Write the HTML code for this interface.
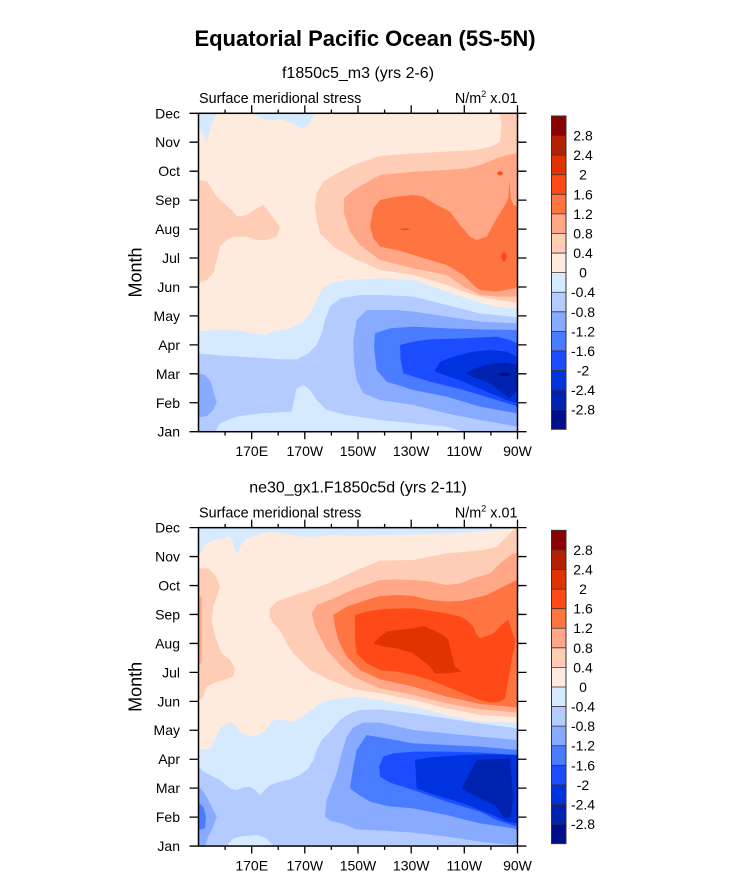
<!DOCTYPE html>
<html><head><meta charset="utf-8"><style>
html,body{margin:0;padding:0;background:#fff;}
svg{display:block;font-family:"Liberation Sans",Arial,sans-serif;}
</style></head><body>
<svg width="733" height="890" viewBox="0 0 733 890" xmlns="http://www.w3.org/2000/svg">
<defs>
<clipPath id="cp"><rect x="237" y="100" width="955" height="955"/></clipPath>
<clipPath id="cp2"><rect x="237" y="83" width="955" height="955"/></clipPath>
</defs>
<rect width="733" height="890" fill="#fff"/>
<text x="365" y="46" font-size="22" font-weight="bold" text-anchor="middle">Equatorial Pacific Ocean (5S-5N)</text>

<!-- ============ PLOT 1 contours ============ -->
<g transform="translate(120,80) scale(0.333333)" clip-path="url(#cp)">
<rect x="237" y="100" width="955" height="955" fill="#FFEBDD"/>
<g fill="#D6EAFF">
<path d="M237,100 L288,100 L272,140 L260,187 L248,160 L237,150 Z"/>
<path d="M395,100 L585,100 L565,135 L545,148 L520,130 L480,118 L440,122 L420,112 Z"/>
<path d="M237,755 L300,748 L360,752 L400,760 L430,765 L460,755 L510,745 L545,730 L570,700 L590,660 L605,628 L630,610 L680,600 L780,595 L880,600 L980,635 L1080,668 L1130,680 L1192,685 L1192,1055 L237,1055 Z"/>
</g>
<path fill="#B3CBFF" d="M237,820 L300,826 L400,832 L480,838 L530,838 L565,820 L590,795 L605,760 L615,720 L630,680 L660,655 L720,645 L780,645 L880,650 L980,675 L1080,700 L1192,712 L1192,1055 L1030,1055 L980,1040 L880,1030 L780,1020 L680,1005 L620,990 L590,960 L570,930 L550,915 L530,925 L515,995 L420,1000 L350,1010 L300,1030 L285,1055 L237,1055 Z"/>
<g fill="#88AAFF">
<path d="M740,690 L780,690 L830,690 L880,695 L980,710 L1080,725 L1192,730 L1192,1040 L1080,1020 L980,1000 L880,975 L780,960 L730,940 L710,900 L702,850 L700,780 L710,720 Z"/>
<path d="M237,880 L255,885 L272,905 L290,968 L280,990 L262,1008 L237,1012 Z"/>
</g>
<path fill="#4A7CFF" d="M765,760 L810,745 L880,740 L980,745 L1080,748 L1192,750 L1192,1000 L1080,980 L980,950 L880,930 L800,905 L770,870 L762,800 Z"/>
<path fill="#1C4CFF" d="M840,795 L880,785 L930,778 L1030,775 L1130,770 L1170,780 L1192,790 L1192,980 L1180,975 L1130,960 L1030,930 L930,905 L850,880 L842,840 Z"/>
<path fill="#0033E0" d="M945,870 L960,845 L1000,830 L1060,815 L1110,810 L1160,815 L1192,830 L1192,970 L1160,960 L1100,935 L1030,905 L945,875 Z"/>
<path fill="#0022B0" d="M1035,880 L1080,860 L1120,850 L1160,848 L1192,855 L1192,930 L1170,955 L1150,940 L1110,910 L1070,895 Z"/>
<ellipse cx="1155" cy="883" rx="18" ry="6" fill="#000E8C"/>
<g fill="#FFCDB5">
<path d="M237,300 L262,305 L290,350 L340,395 L352,410 L380,405 L410,385 L430,375 L450,400 L480,440 L470,470 L440,480 L410,480 L380,470 L340,470 L320,480 L300,500 L290,540 L280,580 L260,600 L245,605 L237,610 Z"/>
<path d="M1138,100 L1192,100 L1192,668 L1130,660 L1080,650 L1030,635 L980,615 L880,585 L780,570 L700,535 L640,500 L600,460 L590,420 L585,380 L590,340 L610,305 L650,280 L700,255 L780,228 L880,220 L980,215 L1070,210 L1120,197 L1140,185 L1145,135 Z"/>
</g>
<path fill="#FFA786" d="M672,355 L700,330 L780,285 L880,275 L980,270 L1040,265 L1080,255 L1130,235 L1160,225 L1192,220 L1192,650 L1130,650 L1080,645 L1030,620 L980,585 L880,565 L780,540 L720,495 L690,455 L672,400 Z"/>
<path fill="#FF7542" d="M750,440 L760,385 L780,360 L830,350 L880,345 L910,350 L950,375 L990,395 L1020,435 L1050,470 L1070,480 L1100,470 L1130,415 L1155,375 L1165,355 L1168,300 L1172,355 L1180,375 L1192,380 L1192,625 L1180,625 L1130,635 L1080,630 L1060,615 L1030,585 L980,555 L930,540 L880,525 L830,510 L780,500 L760,475 Z"/>
<g fill="#FF4A18">
<ellipse cx="855" cy="448" rx="14" ry="3"/>
<ellipse cx="1152" cy="530" rx="8" ry="14"/>
<ellipse cx="1140" cy="280" rx="8" ry="6"/>
</g>
</g>

<!-- ============ PLOT 2 contours ============ -->
<g transform="translate(120,500) scale(0.333333)" clip-path="url(#cp2)">
<rect x="237" y="83" width="955" height="955" fill="#FFEBDD"/>
<g fill="#D6EAFF">
<path d="M237,83 L1180,83 L1160,88 L1100,92 L1000,100 L900,103 L800,105 L700,108 L630,105 L590,110 L540,110 L490,100 L450,95 L410,105 L380,115 L360,140 L350,165 L340,130 L330,108 L310,115 L280,120 L255,135 L240,160 L237,165 Z"/>
<path d="M237,745 L255,748 L270,745 L285,720 L300,685 L320,670 L335,668 L350,680 L365,700 L385,708 L410,705 L435,695 L450,670 L465,660 L490,660 L520,665 L540,655 L560,640 L580,625 L610,605 L640,598 L700,590 L780,600 L880,620 L980,645 L1080,665 L1192,668 L1192,1038 L237,1038 Z"/>
</g>
<path fill="#B3CBFF" d="M237,800 L250,815 L270,825 L300,840 L330,865 L350,870 L370,862 L390,860 L405,870 L420,885 L435,870 L450,855 L480,845 L510,838 L540,825 L565,805 L580,780 L590,750 L605,720 L630,695 L660,660 L690,640 L720,630 L780,628 L880,640 L980,655 L1080,670 L1192,685 L1192,1038 L460,1038 L440,1015 L410,1005 L360,1010 L340,1015 L320,1038 L237,1038 Z"/>
<g fill="#88AAFF">
<path d="M700,682 L730,668 L780,668 L880,690 L980,700 L1080,710 L1192,720 L1192,1038 L1180,1035 L1080,1025 L980,1010 L880,998 L790,992 L710,988 L670,972 L630,962 L615,950 L620,900 L635,860 L650,820 L665,760 L680,710 Z"/>
<path d="M237,860 L250,875 L270,910 L290,950 L280,980 L265,1010 L255,1038 L237,1038 Z"/>
</g>
<g fill="#4A7CFF">
<path d="M740,705 L780,712 L880,730 L980,735 L1080,740 L1192,750 L1192,990 L1180,985 L1080,970 L980,945 L880,925 L800,918 L750,905 L710,880 L690,865 L700,800 L710,750 Z"/>
<path d="M237,910 L250,920 L258,950 L255,985 L237,990 Z"/>
</g>
<path fill="#1C4CFF" d="M790,770 L820,760 L880,755 L980,755 L1080,758 L1192,765 L1192,980 L1130,960 L1080,935 L980,905 L880,870 L810,848 L780,830 L778,800 Z"/>
<path fill="#0033E0" d="M885,780 L930,772 L1030,765 L1130,763 L1192,765 L1192,970 L1160,965 L1130,950 L1080,930 L1030,910 L930,880 L890,865 Z"/>
<path fill="#0022B0" d="M1025,865 L1070,780 L1170,775 L1175,835 L1180,900 L1172,950 L1160,955 L1145,945 L1125,915 L1080,895 L1040,875 Z"/>
<g fill="#FFCDB5">
<path d="M237,205 L265,205 L285,225 L300,260 L290,290 L280,320 L275,360 L285,410 L305,460 L330,480 L345,505 L340,530 L310,540 L280,550 L260,560 L250,590 L240,600 L237,600 Z"/>
<path d="M1192,83 L1192,652 L1080,645 L980,625 L880,600 L780,580 L700,567 L630,540 L610,530 L570,510 L540,480 L520,460 L500,430 L480,390 L460,370 L448,350 L450,325 L470,305 L510,290 L570,270 L630,248 L700,215 L780,182 L880,180 L930,170 L980,160 L1040,155 L1090,150 L1130,140 L1160,110 L1180,90 Z"/>
</g>
<path fill="#FFA786" d="M237,290 L245,290 L245,490 L237,490 Z"/>
<path fill="#FFA786" d="M575,340 L590,315 L630,300 L700,268 L780,240 L830,238 L880,240 L930,245 L980,255 L1020,250 L1060,235 L1110,220 L1140,190 L1165,170 L1180,160 L1192,160 L1192,638 L1080,628 L980,610 L880,585 L780,565 L700,530 L660,495 L630,460 L620,450 L605,420 L585,380 Z"/>
<path fill="#FF7542" d="M640,345 L680,320 L740,300 L780,288 L830,285 L880,288 L930,300 L980,305 L1030,302 L1060,295 L1100,285 L1130,270 L1160,255 L1180,245 L1192,240 L1192,622 L1150,618 L1080,612 L980,590 L880,560 L780,538 L720,510 L680,470 L655,420 L645,380 Z"/>
<path fill="#FF4A18" d="M705,345 L740,335 L780,328 L840,325 L880,325 L930,332 L980,340 L1020,350 L1040,360 L1060,380 L1070,405 L1080,415 L1120,400 L1150,370 L1165,360 L1175,390 L1185,420 L1182,450 L1175,480 L1165,540 L1155,595 L1140,605 L1110,608 L1080,600 L1030,580 L980,560 L930,540 L880,525 L830,515 L780,510 L740,490 L710,460 L705,420 Z"/>
<path fill="#E13300" d="M760,430 L780,410 L800,395 L830,390 L880,385 L910,378 L940,390 L970,405 L985,420 L995,460 L1005,500 L1025,515 L980,520 L945,520 L930,500 L880,460 L830,445 L790,440 Z"/>
</g>

<!-- ============ Axes (plot 1), reused for plot 2 ============ -->
<g id="ax">
<rect x="198.5" y="113.3" width="319" height="318.4" fill="none" stroke="#000" stroke-width="1.5"/>
<g stroke="#000" stroke-width="1.3">
<!-- left/right month ticks -->
<path d="M189.5,113.3H198.5M189.5,142.2H198.5M189.5,171.2H198.5M189.5,200.1H198.5M189.5,229.1H198.5M189.5,258H198.5M189.5,287H198.5M189.5,315.9H198.5M189.5,344.9H198.5M189.5,373.8H198.5M189.5,402.75H198.5M189.5,431.7H198.5"/>
<path d="M517.5,113.3H526.5M517.5,142.2H526.5M517.5,171.2H526.5M517.5,200.1H526.5M517.5,229.1H526.5M517.5,258H526.5M517.5,287H526.5M517.5,315.9H526.5M517.5,344.9H526.5M517.5,373.8H526.5M517.5,402.75H526.5M517.5,431.7H526.5"/>
<!-- top major/minor -->
<path d="M251.7,113.3V105.3M304.8,113.3V105.3M358,113.3V105.3M411.2,113.3V105.3M464.3,113.3V105.3M517.5,113.3V105.3"/>
<path d="M225.1,113.3V109.5M278.2,113.3V109.5M331.4,113.3V109.5M384.6,113.3V109.5M437.7,113.3V109.5M490.9,113.3V109.5"/>
<!-- bottom major/minor -->
<path d="M251.7,431.7V439.2M304.8,431.7V439.2M358,431.7V439.2M411.2,431.7V439.2M464.3,431.7V439.2M517.5,431.7V439.2"/>
<path d="M225.1,431.7V435.5M278.2,431.7V435.5M331.4,431.7V435.5M384.6,431.7V435.5M437.7,431.7V435.5M490.9,431.7V435.5"/>
</g>
<g font-size="14" text-anchor="end">
<text x="180" y="118.3">Dec</text>
<text x="180" y="147.2">Nov</text>
<text x="180" y="176.2">Oct</text>
<text x="180" y="205.1">Sep</text>
<text x="180" y="234.1">Aug</text>
<text x="180" y="263">Jul</text>
<text x="180" y="292">Jun</text>
<text x="180" y="320.9">May</text>
<text x="180" y="349.9">Apr</text>
<text x="180" y="378.8">Mar</text>
<text x="180" y="407.75">Feb</text>
<text x="180" y="436.7">Jan</text>
</g>
<g font-size="14" text-anchor="middle">
<text x="251.7" y="456.2">170E</text>
<text x="304.8" y="456.2">170W</text>
<text x="358" y="456.2">150W</text>
<text x="411.2" y="456.2">130W</text>
<text x="464.3" y="456.2">110W</text>
<text x="517.5" y="456.2">90W</text>
</g>
<text x="141.5" y="272.5" font-size="18" text-anchor="middle" transform="rotate(-90 141.5 272.5)">Month</text>
<text x="199" y="103" font-size="14.4">Surface meridional stress</text>
<text x="517.5" y="103" font-size="14.4" text-anchor="end">N/m<tspan font-size="9" dy="-6">2</tspan><tspan dy="6"> x.01</tspan></text>
<!-- colorbar -->
<g stroke="none">
<rect x="551.5" y="116" width="14.5" height="19.6" fill="#8B0000"/>
<rect x="551.5" y="135.58" width="14.5" height="19.6" fill="#B22200"/>
<rect x="551.5" y="155.16" width="14.5" height="19.6" fill="#E13300"/>
<rect x="551.5" y="174.74" width="14.5" height="19.6" fill="#FF4A18"/>
<rect x="551.5" y="194.32" width="14.5" height="19.6" fill="#FF7542"/>
<rect x="551.5" y="213.9" width="14.5" height="19.6" fill="#FFA786"/>
<rect x="551.5" y="233.48" width="14.5" height="19.6" fill="#FFCDB5"/>
<rect x="551.5" y="253.06" width="14.5" height="19.6" fill="#FFEBDD"/>
<rect x="551.5" y="272.64" width="14.5" height="19.6" fill="#D6EAFF"/>
<rect x="551.5" y="292.22" width="14.5" height="19.6" fill="#B3CBFF"/>
<rect x="551.5" y="311.8" width="14.5" height="19.6" fill="#88AAFF"/>
<rect x="551.5" y="331.38" width="14.5" height="19.6" fill="#4A7CFF"/>
<rect x="551.5" y="350.96" width="14.5" height="19.6" fill="#1C4CFF"/>
<rect x="551.5" y="370.54" width="14.5" height="19.6" fill="#0033E0"/>
<rect x="551.5" y="390.12" width="14.5" height="19.6" fill="#0022B0"/>
<rect x="551.5" y="409.7" width="14.5" height="19.58" fill="#000E8C"/>
</g>
<path d="M551.5,135.58H566M551.5,155.16H566M551.5,174.74H566M551.5,194.32H566M551.5,213.9H566M551.5,233.48H566M551.5,253.06H566M551.5,272.64H566M551.5,292.22H566M551.5,311.8H566M551.5,331.38H566M551.5,350.96H566M551.5,370.54H566M551.5,390.12H566M551.5,409.7H566" stroke="#333" stroke-width="0.8"/>
<rect x="551.5" y="116" width="14.5" height="313.28" fill="none" stroke="#333" stroke-width="1"/>
<g font-size="14" text-anchor="middle">
<text x="583" y="140.6">2.8</text>
<text x="583" y="160.2">2.4</text>
<text x="583" y="179.7">2</text>
<text x="583" y="199.3">1.6</text>
<text x="583" y="218.9">1.2</text>
<text x="583" y="238.5">0.8</text>
<text x="583" y="258.1">0.4</text>
<text x="583" y="277.6">0</text>
<text x="583" y="297.2">-0.4</text>
<text x="583" y="316.8">-0.8</text>
<text x="583" y="336.4">-1.2</text>
<text x="583" y="356">-1.6</text>
<text x="583" y="375.5">-2</text>
<text x="583" y="395.1">-2.4</text>
<text x="583" y="414.7">-2.8</text>
</g>
</g>
<text x="358" y="78" font-size="16" text-anchor="middle">f1850c5_m3 (yrs 2-6)</text>

<use href="#ax" transform="translate(0,414.35)"/>
<text x="358" y="492.4" font-size="16" text-anchor="middle">ne30_gx1.F1850c5d (yrs 2-11)</text>
</svg>
</body></html>
